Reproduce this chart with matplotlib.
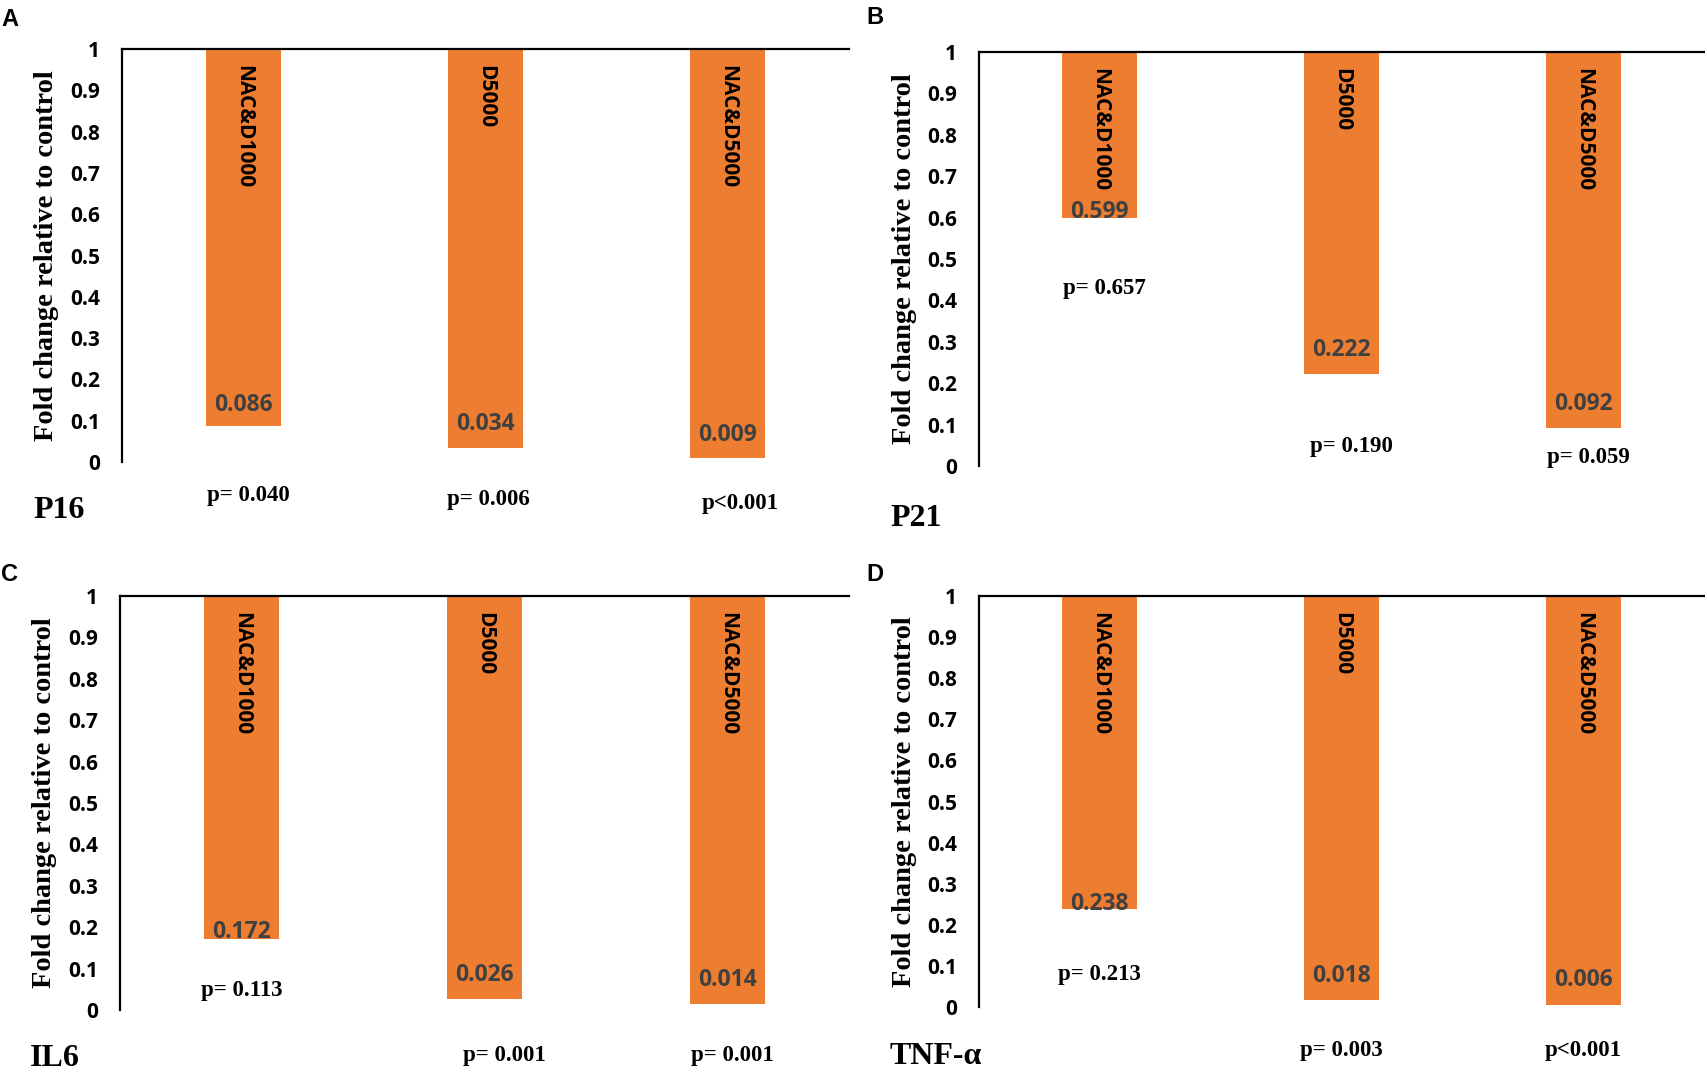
import matplotlib
matplotlib.use("Agg")
import matplotlib.pyplot as plt

# data
groups = ["NAC&D1000", "D5000", "NAC&D5000"]
genes = ["P16", "P21", "IL6", "TNF-α"]
panel_letters = ["A", "B", "C", "D"]

p16_vals = [0.086, 0.034, 0.009]
p21_vals = [0.599, 0.222, 0.092]
il6_vals = [0.172, 0.026, 0.014]
tnf_vals = [0.238, 0.018, 0.006]

p16_p = ["p= 0.040", "p= 0.006", "p<0.001"]
p21_p = ["p= 0.657", "p= 0.190", "p= 0.059"]
il6_p = ["p= 0.113", "p= 0.001", "p= 0.001"]
tnf_p = ["p= 0.213", "p= 0.003", "p<0.001"]

# layout (pixels of a 1706x1083 canvas)
W, H = 1706, 1083
axes_px = [(122, 849, 49, 462), (979, 1704, 52, 466),
           (120, 849, 596, 1010), (979, 1704, 596, 1007)]
letter_px = [(1, 8), (866, 6), (1, 563), (866, 563)]
gene_px = [(33, 511), (890, 518), (30, 1058), (890, 1057)]
# where the hand-placed labels sit (data units)
label_off = [[0.052, 0.058, 0.056], [0.014, 0.058, 0.058],
             [0.016, 0.059, 0.058], [0.012, 0.057, 0.060]]
p_pos = [[(0.02, -0.082), (0.01, -0.09), (0.05, -0.10)],
         [(0.02, 0.428), (0.04, 0.046), (0.02, 0.02)],
         [(0.0, 0.048), (0.08, -0.111), (0.02, -0.111)],
         [(0.0, 0.08), (0.0, -0.107), (0.0, -0.107)]]

orange = "#ED7D31"
sans = "Open Sans"
serif = "Liberation Serif"

fig = plt.figure(figsize=(W / 100, H / 100), dpi=100)

all_vals = [p16_vals, p21_vals, il6_vals, tnf_vals]
all_p = [p16_p, p21_p, il6_p, tnf_p]

for k in range(4):
    l, r, t, b = axes_px[k]
    ax = fig.add_axes([l / W, 1 - b / H, (r - l) / W, (b - t) / H])
    vals = all_vals[k]
    x = list(range(len(groups)))
    ax.bar(x, [1 - v for v in vals], bottom=vals, width=0.31, color=orange)
    ax.set_xlim(-0.5, 2.5)
    ax.set_ylim(0, 1)

    for s in ["right", "bottom"]:
        ax.spines[s].set_visible(False)
    ax.spines["top"].set_linewidth(1.6)
    ax.spines["left"].set_linewidth(1.6)
    ax.set_xticks([])
    ax.set_yticks([i / 10 for i in range(11)])
    ax.set_yticklabels(["0"] + ["0.%d" % i for i in range(1, 10)] + ["1"])
    ax.tick_params(axis="y", length=0, pad=16)
    for lab in ax.get_yticklabels():
        lab.set_fontfamily(sans)
        lab.set_fontweight("bold")
        lab.set_fontsize(15)

    ax.set_ylabel("Fold change relative to control", fontfamily=serif,
                  fontweight="bold", fontsize=20.5)
    ax.yaxis.set_label_coords(-0.086, 0.5)

    for i, v in enumerate(vals):
        ax.text(i, 0.962, groups[i], rotation=270, ha="center", va="top",
                fontfamily=sans, fontweight="bold", fontsize=15, color="black")
        ax.text(i, v + label_off[k][i], "%.3f" % v, ha="center", va="center",
                fontfamily=sans, fontweight="bold", fontsize=16.5, color="#404040")
        dx, py = p_pos[k][i]
        ax.text(i + dx, py, all_p[k][i], ha="center", va="center",
                fontfamily=serif, fontweight="bold", fontsize=16.5,
                clip_on=False)

    lx, ly = letter_px[k]
    fig.text(lx / W, 1 - ly / H, panel_letters[k], ha="left", va="top",
             fontfamily="Liberation Sans", fontweight="bold", fontsize=17)
    gx, gy = gene_px[k]
    fig.text(gx / W, 1 - gy / H, genes[k], ha="left", va="center",
             fontfamily=serif, fontweight="bold", fontsize=23)

fig.savefig("out.png", dpi=100)
